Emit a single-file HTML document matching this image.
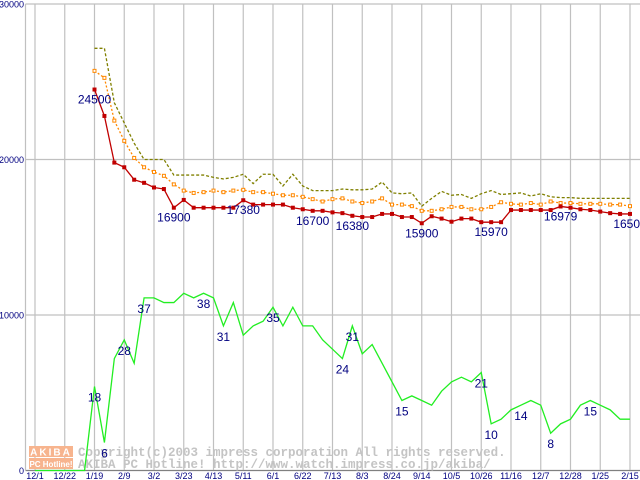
<!DOCTYPE html>
<html><head><meta charset="utf-8"><style>
html,body{margin:0;padding:0;background:#fff;width:640px;height:480px;overflow:hidden}
svg text{font-family:"Liberation Sans",sans-serif}
</style></head><body>
<svg id="chart" width="640" height="480" xmlns="http://www.w3.org/2000/svg">
<g id="grid"></g>
<g id="logo">
<rect x="29" y="446" width="44" height="11" fill="#f7b48e"/>
<text x="51" y="455.5" font-size="10" font-weight="bold" fill="#fff" text-anchor="middle" letter-spacing="2">AKIBA</text>
<rect x="29" y="458" width="44" height="11" fill="#f7b48e"/>
<text x="51" y="467" font-size="8" font-weight="bold" fill="#fff" text-anchor="middle">PC Hotline!</text>
</g>
<text x="78" y="456" font-size="12.5" font-weight="bold" fill="#c4c4c4" style="font-family:'Liberation Mono',monospace">Copyright(c)2003 impress corporation All rights reserved.</text>
<text x="78" y="468" font-size="12.5" font-weight="bold" fill="#c4c4c4" style="font-family:'Liberation Mono',monospace">AKIBA PC Hotline!  http://www.watch.impress.co.jp/akiba/</text>
<g id="series"></g>
<g id="labels"></g>
</svg>
<script>
const xTickLabels=["12/1","12/22","1/19","2/9","3/2","3/23","4/13","5/11","6/1","6/22","7/13","8/3","8/24","9/14","10/5","10/26","11/16","12/7","12/28","1/25","2/15"];
const yTickValues=[0,10000,20000,30000];
const minPrice=[24500,22800,19800,19500,18700,18500,18200,18100,16900,17400,16900,16900,16900,16900,16900,17380,17100,17100,17100,17100,16900,16800,16700,16700,16600,16550,16380,16300,16300,16500,16500,16300,16300,15900,16350,16200,16000,16200,16200,15970,15970,15970,16750,16750,16750,16750,16750,16979,16900,16800,16750,16650,16550,16500,16500];
const avgPrice=[25700,25250,22500,21200,20100,19500,19200,18950,18400,18000,17850,17900,18000,17900,18000,18050,17900,17900,17800,17700,17700,17600,17450,17300,17450,17500,17300,17200,17300,17500,17100,17100,17000,16700,16700,16800,16950,16950,16800,16800,16950,17250,17150,17100,17200,17100,17300,17200,17200,17150,17150,17150,17100,17100,17000];
const maxPrice=[27150,27150,23650,22350,21050,20000,20000,20000,19000,19000,19000,19000,18850,18750,18850,19050,18450,19050,19050,18300,19050,18300,18000,18000,18000,18100,18050,18050,18100,18550,17850,17800,17850,17000,17500,17950,17700,17750,17500,17800,18000,17750,17800,17850,17650,17800,17600,17550,17550,17500,17500,17500,17500,17500,17500];
const shopCount=[0,0,0,0,0,0,18,6,24,28,23,37,37,36,36,38,37,38,37,31,36,29,31,32,35,31,35,31,31,28,26,24,31,25,27,23,19,15,16,15,14,17,19,20,19,21,10,11,13,14,15,14,8,10,11,14,15,14,13,11,11];
const priceLabelIdx=[0,8,15,22,26,33,40,47,54];
const countLabelIdx=[0,1,3,5,11,13,18,25,26,31,39,40,43,46,50];
</script>
<script>
const NS="http://www.w3.org/2000/svg";
const Y0=470.5,Y1=4,X0=35,STEP=29.75/3,OFF=6;
const yS=v=>Y0-(v/30000)*(Y0-Y1);
const yC=c=>yS(c*300);
const xI=i=>X0+(i+OFF)*STEP;
const xC=i=>X0+i*STEP;
function mk(tag,attrs,parent){const e=document.createElementNS(NS,tag);for(const k in attrs)e.setAttribute(k,attrs[k]);parent.appendChild(e);return e;}
const grid=document.getElementById('grid'),series=document.getElementById('series'),labels=document.getElementById('labels');
yTickValues.forEach(v=>{
 const l=mk('line',{x1:25.5,x2:640,y1:yS(v),y2:yS(v),stroke:v===0?'#808080':'#c0c0c0','stroke-width':1.2},grid);
 
 
 const t=mk('text',{x:24,y:yS(v)+3.5,'font-size':9,fill:'#000080','text-anchor':'end'},grid);
 t.textContent=String(v);
 
 
});
mk('line',{x1:25.5,x2:25.5,y1:4,y2:471,stroke:'#c0c0c0','stroke-width':1.2},grid);
xTickLabels.forEach((s,k)=>{
 const x=X0+k*29.75;
 const l=mk('line',{x1:x,x2:x,y1:4,y2:470,stroke:'#c0c0c0','stroke-width':1.2},grid);
 
 
 const t=mk('text',{x:x,y:479,'font-size':9,fill:'#000080','text-anchor':'middle'},grid);
 t.textContent=s;
 
 
});
function line(arr,xf,yf,color,dash,name){
 const p=mk('polyline',{points:arr.map((v,i)=>xf(i)+','+yf(v)).join(' '),fill:'none',stroke:color,'stroke-width':1.3},series);
 if(dash)p.setAttribute('stroke-dasharray',dash);
 
 
}
line(shopCount,xC,yC,'#22ee22',null,'shop-count-line');
line(maxPrice,xI,yS,'#808000','3,2','max-price-line');
line(avgPrice,xI,yS,'#ff8800','2,2','avg-price-line');
avgPrice.forEach((v,i)=>{
 const r=mk('rect',{x:xI(i)-1.5,y:yS(v)-1.5,width:3,height:3,fill:'#fff',stroke:'#ff8800','stroke-width':1},series);
 
 
});
line(minPrice,xI,yS,'#c00000',null,'min-price-line');
minPrice.forEach((v,i)=>{
 const r=mk('rect',{x:xI(i)-2,y:yS(v)-2,width:4,height:4,fill:'#c00000'},series);
 
 
});
priceLabelIdx.forEach(i=>{
 const t=mk('text',{x:xI(i),y:yS(minPrice[i])+14,'font-size':12,fill:'#000080','text-anchor':'middle'},labels);
 t.textContent=String(minPrice[i]);
 
 
});
countLabelIdx.forEach(i=>{
 const t=mk('text',{x:xI(i),y:yC(shopCount[i+OFF])+15,'font-size':12,fill:'#000080','text-anchor':'middle'},labels);
 t.textContent=String(shopCount[i+OFF]);
 
 
});
</script>
</body></html>
